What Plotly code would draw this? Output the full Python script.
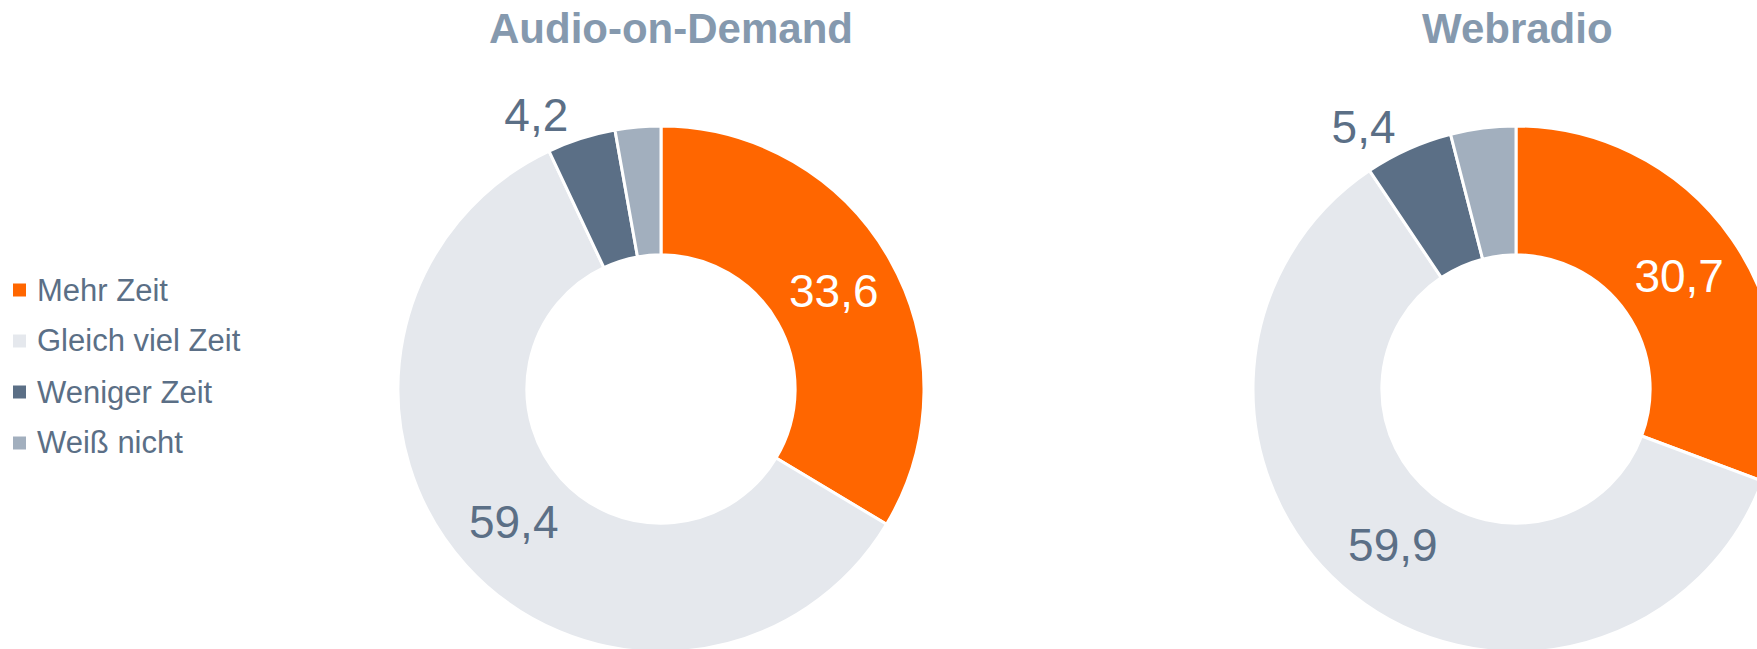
import plotly.graph_objects as go

# Survey answers per audio format
categories = ["Mehr Zeit", "Gleich viel Zeit", "Weniger Zeit", "Weiß nicht"]
audio_on_demand = [33.6, 59.4, 4.2, 2.8]
webradio = [30.7, 59.9, 5.4, 4.0]
chart_titles = ["Audio-on-Demand", "Webradio"]

colors = ["#FF6600", "#E5E8ED", "#5B6F86", "#A2AFBE"]
label_color = "#5B6F86"
title_color = "#8599AE"
font_family = "Liberation Sans, Arial, sans-serif"

W, H = 1800, 700


def px_x(x):
    return x / W


def px_y(y_top):
    return (H - y_top) / H


def donut(values, cx, cy, r, name):
    return go.Pie(
        labels=categories,
        values=values,
        name=name,
        sort=False,
        direction="clockwise",
        rotation=0,
        hole=0.51,
        marker=dict(colors=colors, line=dict(color="white", width=3)),
        texttemplate=["%{value:.1f}", "%{value:.1f}", "%{value:.1f}", ""],
        textposition=["inside", "inside", "outside", "none"],
        insidetextorientation="horizontal",
        insidetextfont=dict(family=font_family, size=46,
                            color=["white", label_color, label_color, label_color]),
        outsidetextfont=dict(family=font_family, size=46, color=label_color),
        showlegend=False,
        domain=dict(x=[px_x(cx - r), px_x(cx + r)],
                    y=[px_y(cy + r), px_y(cy - r)]),
    )


fig = go.Figure()
fig.add_trace(donut(audio_on_demand, 661, 389, 263, chart_titles[0]))
fig.add_trace(donut(webradio, 1516, 389, 263, chart_titles[1]))

# Chart titles above each ring
for title, cx in zip(chart_titles, [671, 1517]):
    fig.add_annotation(
        text=f"<b>{title}</b>", x=px_x(cx), y=px_y(28),
        xref="paper", yref="paper", xanchor="center", yanchor="middle",
        showarrow=False, font=dict(family=font_family, size=42, color=title_color),
    )

# Legend keys on the left
legend_y = [290, 341, 392, 443]
for cat, col, ly in zip(categories, colors, legend_y):
    fig.add_shape(
        type="rect", xref="paper", yref="paper",
        x0=px_x(13), x1=px_x(26), y0=px_y(ly + 6.5), y1=px_y(ly - 6.5),
        fillcolor=col, line=dict(width=0),
    )
    fig.add_annotation(
        text=cat, x=px_x(35), y=px_y(ly), xref="paper", yref="paper",
        xanchor="left", yanchor="middle", showarrow=False,
        font=dict(family=font_family, size=31, color=label_color),
    )

fig.update_layout(
    width=W, height=H,
    margin=dict(l=0, r=0, t=0, b=0),
    paper_bgcolor="white", plot_bgcolor="white",
    separators=",.",
    font=dict(family=font_family, color=label_color),
)

fig.write_html(
    "out.html",
    post_script="document.body.style.margin='0';"
                "document.body.style.overflow='hidden';"
                "document.documentElement.style.overflow='hidden';",
)
